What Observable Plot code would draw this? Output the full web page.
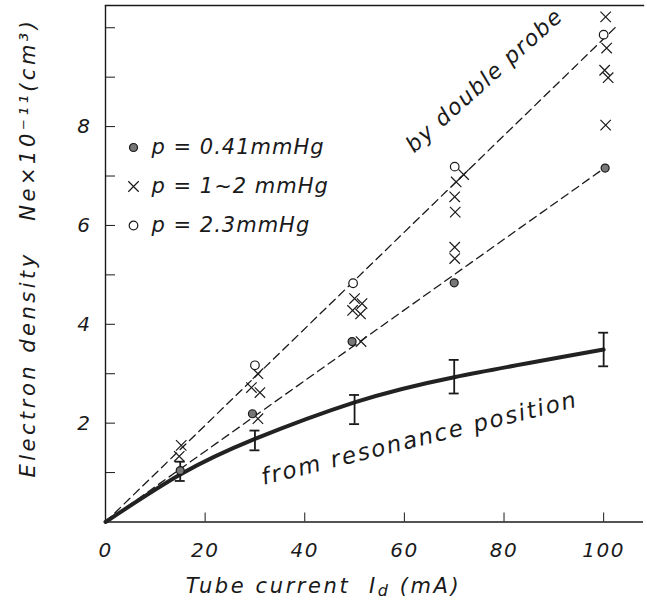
<!DOCTYPE html>
<html>
<head>
<meta charset="utf-8">
<script src="https://cdn.jsdelivr.net/npm/d3@7"></script>
<script src="https://cdn.jsdelivr.net/npm/@observablehq/plot@0.6"></script>
<style>
  html, body { margin: 0; padding: 0; background: #fff; }
  svg text { font-style: italic; }
</style>
</head>
<body>
<div id="chart"></div>
<script>
// ---- data ----
const xTicks = [0, 20, 40, 60, 80, 100];
const yTicksMinor = [1, 2, 3, 4, 5, 6, 7, 8, 9, 10];
const yTickLabels = [2, 4, 6, 8];

// resonance-position curve (thick solid) and its error bars
const resX = [0, 15, 30, 50, 70, 100];
const resY = [0, 0.96, 1.68, 2.42, 2.93, 3.49];
const errX = [15, 30, 50, 70, 100];
const errLo = [0.83, 1.45, 1.98, 2.60, 3.15];
const errHi = [1.22, 1.85, 2.57, 3.28, 3.83];

// double probe data
const dotX = [15, 29.5, 49.5, 70, 100.3];          // p = 0.41 mmHg
const dotY = [1.04, 2.19, 3.65, 4.84, 7.16];
const crossX = [15.2, 14.8, 30.6, 29.3, 31.0, 30.6, 50.0, 51.5, 49.6, 51.2, 51.3,
                71.9, 70.4, 70.1, 70.2, 70.1, 70.1, 100.4, 100.6, 100.2, 100.9, 100.4]; // p = 1~2 mmHg
const crossY = [1.55, 1.33, 3.00, 2.72, 2.62, 2.09, 4.52, 4.42, 4.28, 4.21, 3.65,
                7.03, 6.88, 6.58, 6.27, 5.56, 5.33, 10.22, 9.59, 9.14, 8.99, 8.03];
const circX = [30, 49.7, 70.1, 100];                // p = 2.3 mmHg
const circY = [3.17, 4.83, 7.19, 9.86];

// dashed fit lines
const upperX = [0, 103], upperY = [0, 10.07];
const lowerX = [0, 100], lowerY = [0, 7.15];

const legendLabels = ["p = 0.41mmHg", "p = 1~2 mmHg", "p = 2.3mmHg"];
const legendSymbols = ["dot", "times", "circle"];

const zip = (xs, ys) => xs.map((x, i) => ({x, y: ys[i]}));
const res = zip(resX, resY);
const errs = errX.map((x, i) => ({x, lo: errLo[i], hi: errHi[i]}));
const dots = zip(dotX, dotY);
const crosses = zip(crossX, crossY);
const circs = zip(circX, circY);
const upper = zip(upperX, upperY);
const lower = zip(lowerX, lowerY);

const FONT = "'DejaVu Sans', sans-serif";
const ink = "#1a1a1a";

const legendMarks = legendLabels.flatMap((lab, i) => {
  const dy = 142 + i * 39;
  const sym = legendSymbols[i];
  const m = [];
  if (sym === "dot") m.push(Plot.dot([0], {frameAnchor: "top-left", dx: 28, dy, r: 4, fill: "#777", stroke: ink, strokeWidth: 1.2}));
  if (sym === "times") m.push(Plot.dot([0], {frameAnchor: "top-left", dx: 28, dy, r: 4.8, symbol: "times", stroke: ink, strokeWidth: 1.2}));
  if (sym === "circle") m.push(Plot.dot([0], {frameAnchor: "top-left", dx: 28, dy, r: 4.3, fill: "white", stroke: ink, strokeWidth: 1.2}));
  m.push(Plot.text([lab], {frameAnchor: "top-left", dx: 46, dy, text: d => d, textAnchor: "start", lineAnchor: "middle", fontSize: 21, fill: ink}));
  return m;
});

const note = (str, cx, cy, rot, size) =>
  Plot.text([str], {frameAnchor: "top-left", dx: cx - 105, dy: cy - 5, text: d => d, rotate: rot,
    textAnchor: "middle", lineAnchor: "middle", fontSize: size, fill: ink});

const svg = Plot.plot({
  width: 647,
  height: 603,
  marginLeft: 105,
  marginRight: 4,
  marginTop: 5,
  marginBottom: 81.5,
  style: {fontFamily: FONT, fontSize: "20px", background: "white", color: ink},
  x: {domain: [0, 108], label: null},
  y: {domain: [0, 10.45], label: null},
  marks: [
    // frame: left, bottom, top
    Plot.ruleX([0], {stroke: ink, strokeWidth: 1.4}),
    Plot.ruleY([0], {stroke: ink, strokeWidth: 1.4}),
    Plot.frame({anchor: "top", stroke: ink, strokeWidth: 1.4}),
    // inward ticks
    Plot.axisX({ticks: xTicks.slice(1), tickSize: -9, tickFormat: () => "", stroke: ink, label: null}),
    Plot.axisY({ticks: yTicksMinor, tickSize: -10, tickFormat: () => "", stroke: ink, label: null}),
    // tick labels
    Plot.axisX({ticks: xTicks, tickSize: 0, tickPadding: 21, fontSize: 20, label: null, fill: ink}),
    Plot.axisY({ticks: yTickLabels, tickSize: 0, tickPadding: 14, fontSize: 20, label: null, fill: ink}),
    // dashed lines
    Plot.line(upper, {x: "x", y: "y", stroke: ink, strokeWidth: 1.3, strokeDasharray: "8,5"}),
    Plot.line(lower, {x: "x", y: "y", stroke: ink, strokeWidth: 1.3, strokeDasharray: "8,5"}),
    // resonance curve
    Plot.line(res, {x: "x", y: "y", curve: "natural", stroke: "#222", strokeWidth: 4}),
    Plot.ruleX(errs, {x: "x", y1: "lo", y2: "hi", stroke: ink, strokeWidth: 1.8}),
    Plot.ruleY(errs, {y: "lo", x1: d => d.x - 1, x2: d => d.x + 1, stroke: ink, strokeWidth: 1.8}),
    Plot.ruleY(errs, {y: "hi", x1: d => d.x - 1, x2: d => d.x + 1, stroke: ink, strokeWidth: 1.8}),
    // data points
    Plot.dot(crosses, {x: "x", y: "y", symbol: "times", r: 4.8, stroke: ink, strokeWidth: 1.2}),
    Plot.dot(circs, {x: "x", y: "y", r: 4.3, fill: "white", stroke: ink, strokeWidth: 1.2}),
    Plot.dot(dots, {x: "x", y: "y", r: 4, fill: "#777", stroke: ink, strokeWidth: 1.2}),
    // annotations
    note("by double probe", 484, 80, -42, 22),
    note("from resonance position", 419, 438, -14, 23),
    ...legendMarks,
    // axis titles
    note("Tube current  Id (mA)", 323, 586, 0, 21),
    note("Electron density   Ne\u00d710\u207b\u00b9\u00b9(cm\u00b3)", 28, 247, -90, 21)
  ]
});

const texts = d3.select(svg).selectAll("text");
texts.style("letter-spacing", "1.5px");
// subscript "d" in the x-axis title
texts.filter(function() { return this.textContent === "Tube current  Id (mA)"; })
  .style("letter-spacing", "2.6px")
  .each(function() {
    const t = d3.select(this);
    t.text("");
    t.append("tspan").text("Tube current  I");
    t.append("tspan").attr("dy", "3").attr("font-size", "16").text("d");
    t.append("tspan").attr("dy", "-3").text(" (mA)");
  });
texts.filter(function() { return this.textContent.startsWith("Electron"); }).style("letter-spacing", "3.5px");
texts.filter(function() { return this.textContent.startsWith("from"); }).style("letter-spacing", "2px");
texts.filter(function() { return this.textContent.startsWith("p = "); }).style("letter-spacing", "1px");

document.getElementById("chart").appendChild(svg);
</script>
</body>
</html>
